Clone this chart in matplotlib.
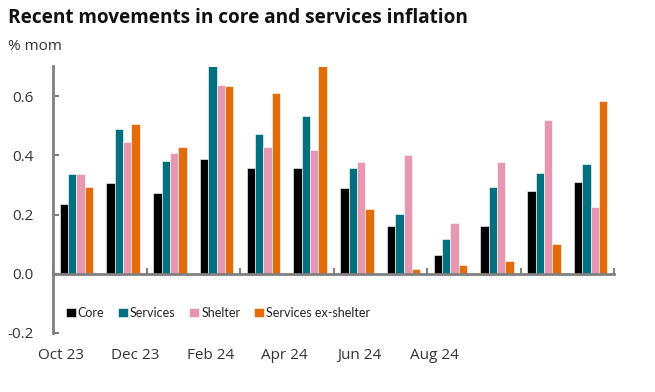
import matplotlib
matplotlib.use("Agg")
import matplotlib.pyplot as plt
import numpy as np

months = ["Oct 23", "Nov 23", "Dec 23", "Jan 24", "Feb 24", "Mar 24",
          "Apr 24", "May 24", "Jun 24", "Jul 24", "Aug 24", "Sep 24"]
core = [0.236, 0.306, 0.272, 0.389, 0.356, 0.356, 0.289, 0.160, 0.062, 0.163, 0.279, 0.310]
services = [0.337, 0.488, 0.381, 0.72, 0.471, 0.533, 0.356, 0.201, 0.119, 0.292, 0.342, 0.371]
shelter = [0.337, 0.445, 0.407, 0.637, 0.427, 0.418, 0.379, 0.402, 0.171, 0.379, 0.519, 0.224]
services_ex_shelter = [0.292, 0.505, 0.429, 0.633, 0.609, 0.74, 0.218, 0.017, 0.030, 0.042, 0.101, 0.585]
series_names = ["Core", "Services", "Shelter", "Services ex-shelter"]
series_colors = ["#000000", "#00707F", "#E598B0", "#E36C0A"]
tick_labels = ["Oct 23", "Dec 23", "Feb 24", "Apr 24", "Jun 24", "Aug 24"]
yticks = [-0.2, 0.0, 0.2, 0.4, 0.6]

plt.rcParams['font.family'] = ['Open Sans', 'DejaVu Sans']

fig = plt.figure(figsize=(6.55, 3.92), dpi=100)
ax = fig.add_axes([53/655, 1-333/392, (614-53)/655, (333-66.5)/392])

x = np.arange(len(months))
w = 0.178
data = [core, services, shelter, services_ex_shelter]
for i, (vals, name, col) in enumerate(zip(data, series_names, series_colors)):
    ax.bar(x + (i - 1.5) * w, vals, width=w, color=col, label=name,
           edgecolor='white', linewidth=0.4)

ax.set_xlim(-0.5, len(months) - 0.5)
ax.set_ylim(-0.2, 0.7)

for s in ['top', 'right']:
    ax.spines[s].set_visible(False)
ax.spines['bottom'].set_position(('data', 0))
ax.spines['bottom'].set_color('#808080')
ax.spines['bottom'].set_linewidth(2)
ax.spines['left'].set_color('#808080')
ax.spines['left'].set_linewidth(2)
ax.spines['left'].set_bounds(-0.2, 0.7)

ax.set_xticks(np.arange(-0.5, len(months), 2))
ax.tick_params(axis='x', direction='in', length=4, width=1.5, color='#808080', labelbottom=False)
ax.set_yticks(yticks)
ax.set_yticklabels([f"{v:.1f}" for v in yticks])
ax.tick_params(axis='y', direction='in', length=4, width=1.5, color='#808080',
               labelsize=11, labelcolor='#333333', pad=14)

label_pos = np.linspace(-0.33, 7.65, len(tick_labels))
for p, t in zip(label_pos, tick_labels):
    ax.text(p, -0.085, t, transform=ax.get_xaxis_transform(), ha='center', va='center',
            fontsize=11, color='#333333')

leg = ax.legend(loc='center left', bbox_to_anchor=(0.012, 0.075), ncol=4, frameon=False,
                prop={'family': ['Lato', 'DejaVu Sans'], 'size': 9},
                handlelength=0.8, handleheight=0.8, handletextpad=0.15,
                columnspacing=1.1, borderpad=0, labelcolor='#222222')

fig.text(8/655, 1-18/392, "Recent movements in core and services inflation", fontsize=13.7,
         fontweight='bold', ha='left', va='center', color='#111111')
fig.text(8/655, 1-46/392, "% mom", fontsize=11, ha='left', va='center', color='#333333')

fig.savefig("out.png", dpi=100)
